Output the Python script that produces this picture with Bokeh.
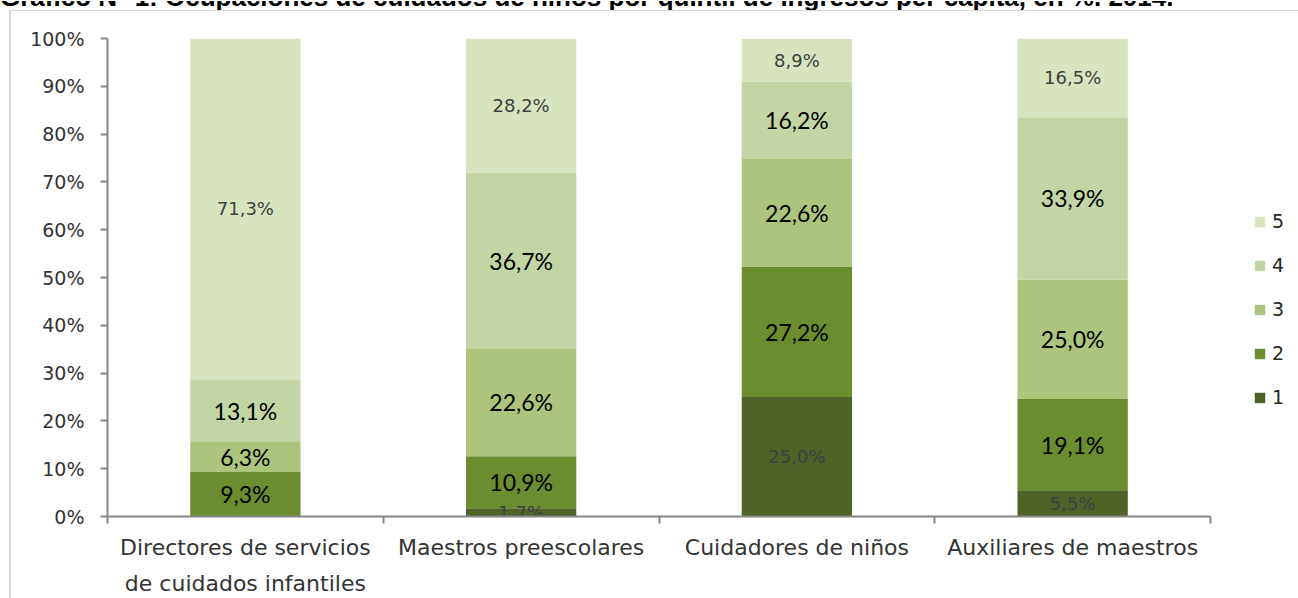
from bokeh.plotting import figure
from bokeh.layouts import column, row
from bokeh.models import (Range1d, FixedTicker, PrintfTickFormatter, Legend, LegendItem,
                          ColumnDataSource, Div)
from bokeh.embed import file_html
from bokeh.resources import INLINE
from bokeh.core.properties import value

# ---- data ----
categories = ["Directores de servicios\nde cuidados infantiles", "Maestros preescolares",
              "Cuidadores de niños", "Auxiliares de maestros"]
series_names = ["1", "2", "3", "4", "5"]
q1 = [0.0, 1.7, 25.0, 5.5]
q2 = [9.3, 10.9, 27.2, 19.1]
q3 = [6.3, 22.6, 22.6, 25.0]
q4 = [13.1, 36.7, 16.2, 33.9]
q5 = [71.3, 28.2, 8.9, 16.5]
y_ticks = [0, 10, 20, 30, 40, 50, 60, 70, 80, 90, 100]
title_text = "Gráfico N° 1: Ocupaciones de cuidados de niños por quintil de ingresos per cápita, en %. 2014."

colors = ["#4F6228", "#6B8C2F", "#ADC47D", "#C3D5A4", "#D7E4BD"]
series = [q1, q2, q3, q4, q5]
keys = ["q1", "q2", "q3", "q4", "q5"]
BORDER = "#D9D9D9"

# ---- top strip: title (cut off by the page top, as in the source) + chart-area top border ----
top_html = (
    '<div style="position:relative;width:1298px;height:11px;overflow:hidden;">'
    '<div style="position:absolute;left:0px;top:-16px;white-space:nowrap;'
    "font-family:'Liberation Sans',Arial,sans-serif;font-weight:bold;font-size:26px;"
    'line-height:25px;color:#000000;">' + title_text + '</div>'
    '<div style="position:absolute;left:9px;top:9px;width:1289px;height:2px;'
    'background:' + BORDER + ';"></div>'
    '</div>'
)
top = Div(text=top_html, width=1298, height=11, margin=0, styles={"overflow": "hidden"})

# ---- left strip: chart-area left border ----
left_html = ('<div style="margin-left:9px;width:2px;height:587px;background:' + BORDER + ';"></div>')
left = Div(text=left_html, width=11, height=587, margin=0, styles={"overflow": "hidden"})

# ---- main chart ----
xs = [i + 0.5 for i in range(len(categories))]
src = ColumnDataSource(dict(x=xs, **{k: v for k, v in zip(keys, series)}))

p = figure(width=1287, height=587, x_range=Range1d(0, 4.319), y_range=Range1d(0, 100),
           output_backend="svg", toolbar_location=None, title=None, margin=0,
           min_border_left=96, min_border_right=0, min_border_top=27, min_border_bottom=82)
p.xgrid.visible = False
p.ygrid.visible = False
p.outline_line_color = None

rs = p.vbar_stack(keys, x="x", width=0.4, color=colors, line_color=None, source=src)

# segment labels
lbl_light = dict(x=[], y=[], t=[])
lbl_dark = dict(x=[], y=[], t=[])
bottoms = [0.0] * len(categories)
for si, vals in enumerate(series):
    for ci, v in enumerate(vals):
        if v > 0:
            target = lbl_light if si in (0, 4) else lbl_dark
            target["x"].append(xs[ci])
            target["y"].append(bottoms[ci] + v / 2)
            target["t"].append(f"{v:.1f}".replace(".", ",") + "%")
        bottoms[ci] += v

p.text(x=lbl_light["x"], y=lbl_light["y"], text=lbl_light["t"], text_align="center",
       text_baseline="middle", text_font=value("DejaVu Sans"), text_font_size="18px",
       text_color="#404040")
p.text(x=lbl_dark["x"], y=lbl_dark["y"], text=lbl_dark["t"], text_align="center",
       text_baseline="middle", text_font=value("Lato"), text_font_size="23px",
       text_color="#000000")

# axes
xa = p.xaxis[0]
xa.bounds = (0, len(categories))
xa.ticker = FixedTicker(ticks=xs, minor_ticks=list(range(len(categories) + 1)))
xa.major_label_overrides = {x: c for x, c in zip(xs, categories)}
xa.major_tick_line_color = None
xa.minor_tick_line_color = "#868686"
xa.minor_tick_line_width = 2
xa.minor_tick_in = 0
xa.minor_tick_out = 7
xa.axis_line_color = "#868686"
xa.axis_line_width = 2
xa.major_label_text_font = "DejaVu Sans"
xa.major_label_text_font_size = "22px"
xa.major_label_text_color = "#333333"
xa.major_label_standoff = 11
xa.major_label_text_line_height = 1.45

ya = p.yaxis[0]
ya.bounds = (0, 100)
ya.ticker = FixedTicker(ticks=y_ticks)
ya.formatter = PrintfTickFormatter(format="%d%%")
ya.minor_tick_line_color = None
ya.major_tick_line_color = "#868686"
ya.major_tick_line_width = 2
ya.major_tick_in = 0
ya.major_tick_out = 7
ya.axis_line_color = "#868686"
ya.axis_line_width = 2
ya.major_label_text_font = "DejaVu Sans"
ya.major_label_text_font_size = "19px"
ya.major_label_text_color = "#333333"
ya.major_label_standoff = 16

# legend (inside the widened frame, right of the axis end)
items = [LegendItem(label=series_names[i], renderers=[rs[i]]) for i in reversed(range(5))]
legend = Legend(items=items, location=(1146, 108), glyph_width=13, glyph_height=13,
                label_height=21, spacing=22, padding=0, margin=0, label_standoff=6,
                label_text_font="DejaVu Sans", label_text_font_size="19px",
                label_text_color="#262626", border_line_color=None, background_fill_alpha=0)
p.add_layout(legend)

layout = column(top, row(left, p, spacing=0, margin=0), spacing=0, margin=0)

open("out.html", "w").write(file_html(layout, INLINE))
